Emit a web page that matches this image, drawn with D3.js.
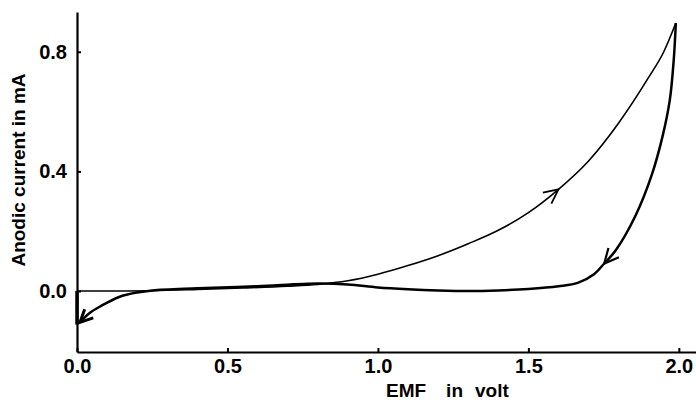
<!DOCTYPE html>
<html>
<head>
<meta charset="utf-8">
<script src="https://cdn.jsdelivr.net/npm/d3@7"></script>
<style>
  body { margin: 0; background: #fff; }
  svg { display: block; }
  .axis text { font-family: "Liberation Sans", Arial, sans-serif; font-weight: bold; font-size: 20px; fill: #000; }
  .axis path, .axis line { stroke: #000; }
  .title { font-family: "Liberation Sans", Arial, sans-serif; font-weight: bold; font-size: 19px; fill: #000; }
</style>
</head>
<body>
<svg id="chart" width="696" height="402"></svg>
<script>
// x ticks (volt) and y ticks (mA)
const xTicks = [0.0, 0.5, 1.0, 1.5, 2.0];
const yTicks = [0.0, 0.4, 0.8];

// forward sweep (thin line)
const forwardV = [0.0, 0.1, 0.25, 0.4, 0.55, 0.7, 0.8, 0.9, 1.0, 1.1, 1.2, 1.3, 1.4, 1.5, 1.6, 1.7, 1.8, 1.9, 1.95, 1.99];
const forwardI = [0.0, 0.0, 0.001, 0.005, 0.010, 0.016, 0.022, 0.034, 0.056, 0.085, 0.118, 0.158, 0.203, 0.262, 0.34, 0.435, 0.562, 0.715, 0.80, 0.896];

// return sweep (thick line)
const returnV = [1.99, 1.983, 1.970, 1.947, 1.910, 1.857, 1.791, 1.752, 1.718, 1.664, 1.6, 1.5, 1.4, 1.3, 1.2, 1.1, 1.0, 0.9, 0.8, 0.6, 0.4, 0.25, 0.2, 0.14, 0.08, 0.04, 0.01];
const returnI = [0.896, 0.773, 0.639, 0.522, 0.388, 0.254, 0.137, 0.092, 0.056, 0.027, 0.016, 0.007, 0.002, 0.0, 0.002, 0.006, 0.012, 0.022, 0.025, 0.016, 0.009, 0.002, -0.005, -0.02, -0.05, -0.075, -0.105];

// jump back to zero at 0 V
const jumpV = [0.0, 0.0];
const jumpI = [-0.112, 0.0];

const margin = {top: 12, right: 0, bottom: 50, left: 77};
const width = 696 - margin.left - margin.right;
const height = 402 - margin.top - margin.bottom;

const svg = d3.select("#chart");
const g = svg.append("g").attr("transform", `translate(${margin.left},${margin.top})`);

const x = d3.scaleLinear().domain([0, 2.057]).range([0, width]);
const y = d3.scaleLinear().domain([-0.204, 0.933]).range([height, 0]);

const xAxis = g.append("g")
    .attr("class", "axis")
    .attr("transform", `translate(0,${height})`)
    .call(d3.axisBottom(x).tickValues(xTicks).tickFormat(d3.format(".1f"))
      .tickSizeInner(-4).tickSizeOuter(0).tickPadding(7));
xAxis.select(".domain").attr("stroke-width", 2.2);
xAxis.selectAll(".tick line").attr("stroke-width", 2);

const yAxis = g.append("g")
    .attr("class", "axis")
    .call(d3.axisLeft(y).tickValues(yTicks).tickFormat(d3.format(".1f"))
      .tickSizeInner(-4).tickSizeOuter(0).tickPadding(10));
yAxis.select(".domain").attr("stroke-width", 2.2);
yAxis.selectAll(".tick line").attr("stroke-width", 2);

// axis titles
svg.append("text")
    .attr("class", "title")
    .attr("transform", "translate(25,170) rotate(-90)")
    .attr("text-anchor", "middle")
    .text("Anodic current in mA");

const xt = svg.append("text")
    .attr("class", "title")
    .attr("x", 386)
    .attr("y", 397);
xt.append("tspan").text("EMF");
xt.append("tspan").attr("dx", 20).text("in");
xt.append("tspan").attr("dx", 12).text("volt");

const toPts = (vs, is) => vs.map((v, k) => [v, is[k]]);
const fwdLine = d3.line()
    .x(d => x(d[0]))
    .y(d => y(d[1]))
    .curve(d3.curveMonotoneX);
const retLine = d3.line()
    .x(d => x(d[0]))
    .y(d => y(d[1]))
    .curve(d3.curveCatmullRom.alpha(0.5));

const fwd = toPts(forwardV, forwardI);
const ret = toPts(returnV, returnI);

g.append("path")
    .datum(fwd)
    .attr("fill", "none")
    .attr("stroke", "#000")
    .attr("stroke-width", 1.6)
    .attr("d", fwdLine);

g.append("path")
    .datum(ret)
    .attr("fill", "none")
    .attr("stroke", "#000")
    .attr("stroke-width", 2.5)
    .attr("d", retLine);

g.append("path")
    .datum(toPts(jumpV, jumpI))
    .attr("fill", "none")
    .attr("stroke", "#000")
    .attr("stroke-width", 3.5)
    .attr("d", d3.line().x(d => x(d[0])).y(d => y(d[1])));

// open arrowheads along the curves
function arrowAt(pts, at, len, sw) {
  const a = pts[at], b = pts[at - 1];
  const ax = x(a[0]), ay = y(a[1]), bx = x(b[0]), by = y(b[1]);
  const ang = Math.atan2(ay - by, ax - bx);
  const spread = 0.45;
  const p1 = [ax - len * Math.cos(ang - spread), ay - len * Math.sin(ang - spread)];
  const p2 = [ax - len * Math.cos(ang + spread), ay - len * Math.sin(ang + spread)];
  g.append("path")
    .attr("fill", "none")
    .attr("stroke", "#000")
    .attr("stroke-width", sw)
    .attr("stroke-linejoin", "miter")
    .attr("d", `M${p1}L${ax},${ay}L${p2}`);
}

arrowAt(fwd, 14, 16, 1.8);            // near 1.6 V going up
arrowAt(ret, 7, 16, 2.2);             // near 1.75 V going down
arrowAt(ret, ret.length - 1, 14, 3);  // at 0 V
</script>
</body>
</html>
